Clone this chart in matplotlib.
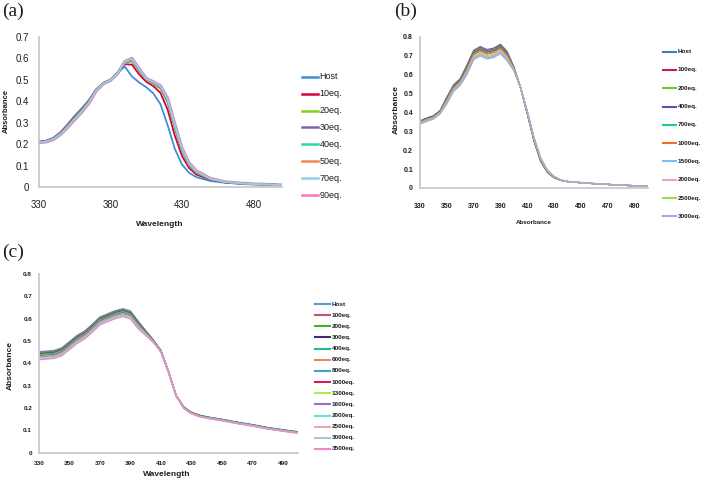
import matplotlib
matplotlib.use("Agg")
import matplotlib.pyplot as plt
from matplotlib.lines import Line2D
from matplotlib.ticker import FormatStrFormatter

plt.rcParams['font.family'] = ['Liberation Sans', 'DejaVu Sans']

# wavelength grid shared by all three panels
wl = [330, 335, 340, 345, 350, 355, 360, 365, 370, 375, 380, 385, 390, 395,
      400, 405, 410, 415, 420, 425, 430, 435, 440, 450, 460, 470, 480, 490, 500]

# ---- panel (a) ----
labels_a = ['Host', '10eq.', '20eq.', '30eq.', '40eq.', '50eq.', '70eq.', '90eq.']
colors_a = ['#3f8fd6', '#d8003c', '#7ed321', '#8060b8', '#2fd6a6', '#f08850', '#8fcdf2', '#f27bb8']
host_a = [.212, .216, .229, .255, .292, .332, .367, .406, .455, .485, .500, .532, .561, .515,
          .487, .465, .436, .385, .288, .178, .105, .066, .046, .028, .020, .016, .013, .011, .008]
eq10_a = [.210, .214, .227, .252, .288, .327, .362, .403, .454, .484, .500, .533, .572, .570,
          .525, .490, .470, .438, .360, .240, .145, .088, .058, .034, .022, .017, .014, .012, .009]
eq20_a = [.209, .213, .226, .250, .285, .324, .359, .401, .453, .484, .500, .532, .578, .585,
          .540, .500, .480, .457, .392, .272, .167, .100, .066, .036, .023, .018, .014, .012, .009]
eq30_a = [.209, .212, .225, .249, .284, .322, .357, .399, .452, .483, .499, .531, .580, .590,
          .544, .502, .484, .462, .398, .279, .171, .103, .068, .037, .023, .018, .014, .012, .009]
eq40_a = [.208, .212, .224, .247, .282, .320, .355, .397, .451, .483, .499, .530, .581, .593,
          .547, .503, .486, .465, .403, .284, .175, .106, .070, .037, .024, .018, .014, .012, .009]
eq50_a = [.208, .211, .223, .246, .281, .318, .353, .395, .450, .482, .498, .530, .582, .595,
          .549, .504, .487, .467, .406, .287, .177, .108, .072, .038, .024, .018, .014, .012, .009]
eq70_a = [.207, .211, .222, .245, .279, .316, .351, .393, .449, .482, .498, .529, .583, .597,
          .550, .505, .489, .469, .409, .290, .179, .110, .074, .038, .024, .018, .014, .012, .009]
eq90_a = [.207, .210, .221, .244, .277, .314, .349, .391, .448, .481, .497, .528, .584, .599,
          .551, .506, .490, .471, .412, .293, .181, .112, .076, .039, .024, .018, .014, .012, .009]
series_a = [host_a, eq10_a, eq20_a, eq30_a, eq40_a, eq50_a, eq70_a, eq90_a]

# ---- panel (b) ----
labels_b = ['Host', '100eq.', '200eq.', '400eq.', '700eq.', '1000eq.', '1500eq.',
            '2000eq.', '2500eq.', '3000eq.']
colors_b = ['#3a7fc0', '#c8204e', '#72c821', '#6a4aa6', '#22c9a0', '#f27020', '#78c2f2',
            '#f5a0c0', '#98e048', '#b4a0e2']
host_b = [.355, .370, .382, .410, .480, .545, .578, .650, .728, .748, .732, .740, .760, .722,
          .640, .530, .392, .248, .140, .082, .054, .040, .034, .028, .023, .019, .015, .012, .008]
eq100_b = [.353, .368, .380, .408, .476, .541, .574, .644, .722, .742, .726, .734, .754, .716,
           .638, .530, .394, .250, .142, .084, .055, .040, .034, .028, .023, .019, .015, .012, .008]
eq200_b = [.351, .366, .378, .406, .473, .538, .571, .640, .718, .738, .722, .730, .750, .712,
           .636, .530, .395, .252, .144, .085, .056, .041, .034, .028, .023, .019, .015, .012, .008]
eq400_b = [.350, .365, .377, .405, .470, .535, .568, .636, .714, .734, .718, .726, .746, .708,
           .634, .530, .396, .254, .146, .086, .056, .041, .034, .028, .023, .019, .015, .012, .008]
eq700_b = [.348, .363, .375, .403, .466, .531, .564, .630, .708, .728, .712, .720, .740, .702,
           .632, .530, .398, .256, .148, .087, .057, .041, .034, .028, .023, .019, .015, .012, .008]
eq1000_b = [.347, .362, .374, .402, .463, .528, .561, .626, .704, .724, .708, .716, .736, .698,
            .630, .530, .399, .258, .150, .088, .058, .041, .035, .028, .023, .019, .015, .012, .008]
eq1500_b = [.337, .352, .364, .392, .445, .510, .543, .600, .678, .698, .682, .690, .710, .672,
            .620, .530, .407, .268, .160, .094, .062, .043, .035, .029, .024, .019, .015, .012, .008]
eq2000_b = [.344, .359, .371, .399, .458, .523, .556, .618, .696, .716, .700, .708, .728, .690,
            .627, .530, .402, .261, .153, .090, .059, .042, .034, .028, .023, .019, .015, .012, .008]
eq2500_b = [.342, .357, .369, .397, .453, .518, .551, .612, .690, .710, .694, .702, .722, .684,
            .625, .530, .403, .263, .155, .092, .060, .042, .034, .028, .023, .019, .015, .012, .008]
eq3000_b = [.340, .355, .367, .395, .449, .514, .547, .606, .684, .704, .688, .696, .716, .678,
            .622, .530, .405, .266, .158, .093, .061, .042, .034, .028, .023, .019, .015, .012, .008]
series_b = [host_b, eq100_b, eq200_b, eq400_b, eq700_b, eq1000_b, eq1500_b,
            eq2000_b, eq2500_b, eq3000_b]

# ---- panel (c) ----
labels_c = ['Host', '100eq.', '200eq.', '300eq.', '400eq.', '600eq.', '800eq.', '1000eq.',
            '1300eq.', '1600eq.', '2000eq.', '2500eq.', '3000eq.', '3500eq.']
colors_c = ['#5a9ad2', '#c4507c', '#4cae22', '#3e2e6e', '#22b892', '#f08464', '#3ea0e0',
            '#d21f52', '#a6f04a', '#9272c4', '#62e2d2', '#f4a4a4', '#a4cae2', '#f286c6']
host_c = [.452, .455, .458, .470, .497, .525, .545, .575, .608, .622, .636, .645, .635, .590,
          .547, .505, .458, .362, .255, .204, .181, .169, .161, .150, .137, .126, .113, .103, .094]
eq100_c = [.448, .451, .454, .467, .494, .523, .543, .571, .604, .618, .632, .641, .631, .586,
           .545, .504, .458, .364, .257, .205, .181, .168, .160, .149, .136, .125, .112, .102, .093]
eq200_c = [.445, .448, .451, .463, .490, .518, .538, .568, .601, .615, .629, .638, .628, .584,
           .543, .503, .457, .363, .256, .204, .180, .168, .160, .149, .136, .125, .112, .102, .093]
eq300_c = [.442, .445, .448, .460, .487, .515, .535, .565, .598, .612, .626, .635, .625, .581,
           .541, .502, .456, .362, .255, .203, .179, .167, .159, .148, .135, .124, .111, .101, .092]
eq400_c = [.440, .443, .446, .458, .485, .513, .533, .563, .596, .610, .624, .633, .623, .579,
           .540, .501, .456, .363, .256, .203, .179, .166, .159, .148, .135, .124, .111, .101, .092]
eq600_c = [.437, .440, .443, .455, .482, .510, .530, .560, .593, .607, .621, .630, .620, .576,
           .538, .500, .455, .362, .256, .202, .178, .166, .158, .147, .134, .123, .110, .100, .091]
eq800_c = [.435, .438, .441, .453, .480, .508, .528, .558, .591, .605, .619, .628, .618, .574,
           .537, .499, .454, .361, .255, .202, .178, .165, .158, .147, .134, .123, .110, .100, .091]
eq1000_c = [.432, .435, .438, .450, .477, .505, .525, .555, .588, .602, .616, .625, .615, .571,
            .535, .498, .454, .362, .256, .201, .177, .165, .157, .146, .133, .122, .109, .099, .090]
eq1300_c = [.430, .433, .436, .448, .475, .503, .523, .553, .586, .600, .614, .623, .613, .569,
            .534, .498, .453, .361, .255, .201, .177, .164, .157, .146, .133, .122, .109, .099, .090]
eq1600_c = [.427, .430, .433, .445, .472, .500, .520, .550, .583, .597, .611, .620, .610, .566,
            .532, .497, .453, .361, .255, .200, .176, .164, .156, .145, .132, .121, .108, .098, .089]
eq2000_c = [.425, .428, .431, .443, .470, .498, .518, .548, .581, .595, .609, .618, .608, .564,
            .531, .496, .452, .360, .254, .200, .176, .163, .156, .145, .132, .121, .108, .098, .089]
eq2500_c = [.422, .425, .428, .440, .467, .495, .515, .545, .578, .592, .606, .615, .605, .561,
            .529, .496, .452, .360, .254, .199, .175, .163, .155, .144, .131, .120, .107, .097, .088]
eq3000_c = [.420, .423, .426, .438, .465, .493, .513, .543, .576, .590, .604, .613, .603, .559,
            .528, .495, .451, .359, .253, .199, .175, .162, .155, .144, .131, .120, .107, .097, .088]
eq3500_c = [.416, .419, .422, .434, .461, .489, .509, .539, .572, .586, .600, .609, .599, .555,
            .525, .494, .451, .359, .253, .198, .174, .162, .154, .143, .130, .119, .106, .096, .087]
series_c = [host_c, eq100_c, eq200_c, eq300_c, eq400_c, eq600_c, eq800_c, eq1000_c,
            eq1300_c, eq1600_c, eq2000_c, eq2500_c, eq3000_c, eq3500_c]

xticks_a = [330, 380, 430, 480]
xticks_bc = [330, 350, 370, 390, 410, 430, 450, 470, 490]
yticks_a = [0, 0.1, 0.2, 0.3, 0.4, 0.5, 0.6, 0.7]
yticks_bc = [0, 0.1, 0.2, 0.3, 0.4, 0.5, 0.6, 0.7, 0.8]

W, H = 701, 482
fig = plt.figure(figsize=(W / 100, H / 100), dpi=100)
TXT = '#1e1e1e'


def px_axes(x0, y0, x1, y1):
    return fig.add_axes([x0 / W, 1 - y1 / H, (x1 - x0) / W, (y1 - y0) / H])


def style(ax, xticks, yticks, tick_fs, weight, xpad, ypad):
    ax.set_xlim(330, 500)
    ax.set_ylim(yticks[0], yticks[-1])
    ax.set_xticks(xticks)
    ax.set_yticks(yticks)
    ax.yaxis.set_major_formatter(FormatStrFormatter('%g'))
    for s in ['top', 'right']:
        ax.spines[s].set_visible(False)
    for s in ['left', 'bottom']:
        ax.spines[s].set_color('#c5cbd0')
        ax.spines[s].set_linewidth(1.3)
    ax.tick_params(length=0, labelsize=tick_fs, labelcolor=TXT)
    ax.tick_params(axis='x', pad=xpad)
    ax.tick_params(axis='y', pad=ypad)
    for t in ax.get_xticklabels() + ax.get_yticklabels():
        t.set_fontweight(weight)


def legend(x0, x1, y0, dy, labels, colors, fs, lw, weight):
    for i, (lab, c) in enumerate(zip(labels, colors)):
        y = 1 - (y0 + dy * i) / H
        fig.add_artist(Line2D([x0 / W, x1 / W], [y, y], color=c, lw=lw,
                              transform=fig.transFigure))
        fig.text((x1 + 1.5) / W, y, lab, fontsize=fs, va='center', ha='left',
                 color=TXT, fontweight=weight)


def label(x, y, s, fs, rot=0, weight='bold', family=None):
    kw = {'family': family} if family else {}
    fig.text(x / W, 1 - y / H, s, fontsize=fs, rotation=rot, ha='center', va='center',
             color=TXT, fontweight=weight, **kw)


# (a)
ax_a = px_axes(39, 36.7, 282, 187)
for i, (ys, c) in enumerate(zip(series_a, colors_a)):
    lw = 2.3 if i == len(series_a) - 1 else 1.3
    z = 1 if i == len(series_a) - 1 else 2 + i
    ax_a.plot(wl, ys, color=c, lw=lw, zorder=z)
style(ax_a, xticks_a, yticks_a, 7, 'normal', 9.5, 7)
legend(302, 318, 76.7, 16.9, labels_a, colors_a, 6.5, 1.8, 'normal')
label(6, 111, 'Absorbance', 5.5, rot=90)
label(160, 225, 'Wavelength', 6)
label(13, 11, '(a)', 14, weight='normal', family=['Liberation Serif', 'DejaVu Serif'])

# (b)
ax_b = px_axes(420, 36.7, 648, 188)
for ys, c in zip(series_b, colors_b):
    ax_b.plot(wl, ys, color=c, lw=0.9)
style(ax_b, xticks_bc, yticks_bc, 5, 'bold', 11, 5)
legend(663, 676, 51.7, 18.3, labels_b, colors_b, 4.6, 1.5, 'bold')
label(396, 110, 'Absorbance', 6, rot=90)
label(534, 223, 'Absorbance', 4.5)
label(406, 11, '(b)', 14, weight='normal', family=['Liberation Serif', 'DejaVu Serif'])

# (c)
ax_c = px_axes(39, 274, 298, 452.7)
for ys, c in zip(series_c, colors_c):
    ax_c.plot(wl, ys, color=c, lw=0.9)
style(ax_c, xticks_bc, yticks_bc, 4.6, 'bold', 6, 5)
legend(315, 330, 304, 11.15, labels_c, colors_c, 4.6, 1.5, 'bold')
label(10, 365, 'Absorbance', 6, rot=90)
label(167, 475, 'Wavelength', 6)
label(13, 252, '(c)', 14, weight='normal', family=['Liberation Serif', 'DejaVu Serif'])

fig.savefig('out.png', dpi=100)
